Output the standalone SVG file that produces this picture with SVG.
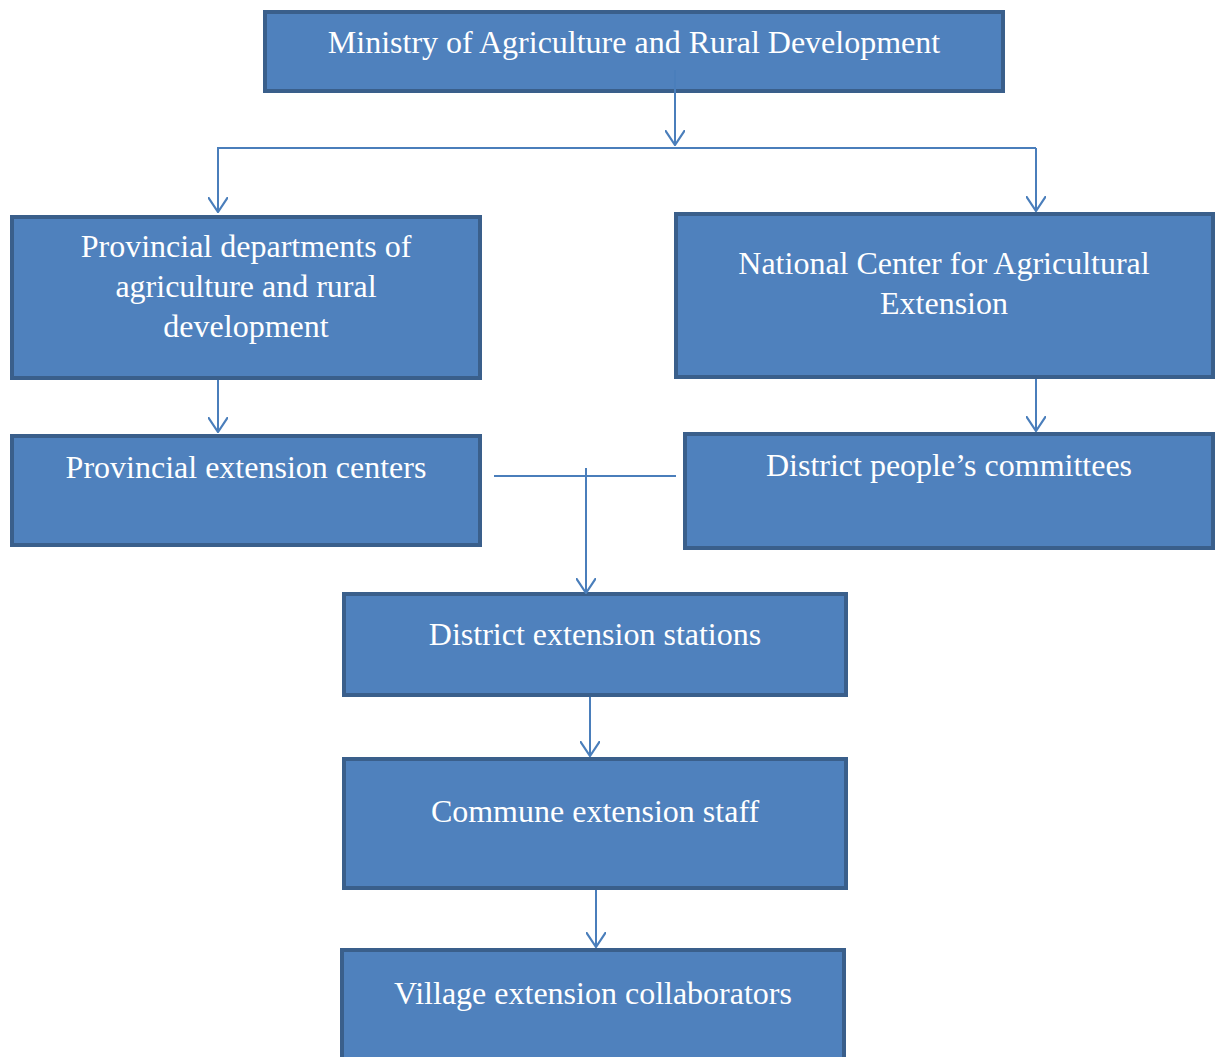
<svg xmlns="http://www.w3.org/2000/svg" width="1215" height="1057" viewBox="0 0 1215 1057">
<defs>
<style>
.box{fill:#4f81bd;stroke:#3a5f8b;stroke-width:4}
.t{font-family:"Liberation Serif","Times New Roman",serif;font-size:32px;fill:#ffffff;text-anchor:middle}
.c{fill:none;stroke:#4a7ebb;stroke-width:2}
</style>
<marker id="arrd" viewBox="0 0 20 16" refX="10" refY="15" markerWidth="20" markerHeight="16" markerUnits="userSpaceOnUse">
<path d="M0,0 L10,15 L20,0" fill="none" stroke="#4a7ebb" stroke-width="2.2"/>
</marker>
</defs>
<rect width="1215" height="1057" fill="#ffffff"/>
<g id="n-ministry">
<rect class="box" x="265" y="12" width="738" height="79"/>
<text class="t" x="634" y="53">Ministry of Agriculture and Rural Development</text>
</g>
<g id="n-provdept">
<rect class="box" x="12" y="217" width="468" height="161"/>
<text class="t" x="246" y="257">Provincial departments of</text>
<text class="t" x="246" y="297">agriculture and rural</text>
<text class="t" x="246" y="337">development</text>
</g>
<g id="n-national">
<rect class="box" x="676" y="214" width="537" height="163"/>
<text class="t" x="944" y="274">National Center for Agricultural</text>
<text class="t" x="944" y="314">Extension</text>
</g>
<g id="n-provext">
<rect class="box" x="12" y="436" width="468" height="109"/>
<text class="t" x="246" y="478">Provincial extension centers</text>
</g>
<g id="n-districtpc">
<rect class="box" x="685" y="434" width="528" height="114"/>
<text class="t" x="949" y="476">District people’s committees</text>
</g>
<g id="n-districtext">
<rect class="box" x="344" y="594" width="502" height="101"/>
<text class="t" x="595" y="645">District extension stations</text>
</g>
<g id="n-commune">
<rect class="box" x="344" y="759" width="502" height="129"/>
<text class="t" x="595" y="822">Commune extension staff</text>
</g>
<g id="n-village">
<rect class="box" x="342" y="950" width="502" height="112"/>
<text class="t" x="593" y="1004">Village extension collaborators</text>
</g>
<g id="connectors">
<line class="c" x1="675" y1="70" x2="675" y2="145" marker-end="url(#arrd)"/>
<line class="c" x1="217" y1="148" x2="1036" y2="148"/>
<line class="c" x1="218" y1="148" x2="218" y2="212" marker-end="url(#arrd)"/>
<line class="c" x1="1036" y1="148" x2="1036" y2="211" marker-end="url(#arrd)"/>
<line class="c" x1="218" y1="380" x2="218" y2="432" marker-end="url(#arrd)"/>
<line class="c" x1="1036" y1="379" x2="1036" y2="431" marker-end="url(#arrd)"/>
<line class="c" x1="494" y1="476" x2="676" y2="476"/>
<line class="c" x1="586" y1="468" x2="586" y2="593" marker-end="url(#arrd)"/>
<line class="c" x1="590" y1="697" x2="590" y2="756" marker-end="url(#arrd)"/>
<line class="c" x1="596" y1="890" x2="596" y2="947" marker-end="url(#arrd)"/>
</g>
</svg>
